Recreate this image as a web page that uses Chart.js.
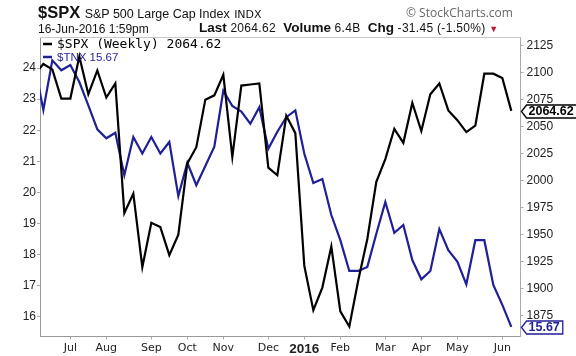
<!DOCTYPE html>
<html><head><meta charset="utf-8">
<script src="https://cdn.jsdelivr.net/npm/chart.js@4"></script>
<style>
html,body{margin:0;padding:0;background:#fff;}
#wrap{position:relative;width:576px;height:356px;overflow:hidden;font-family:"Liberation Sans",Arial,sans-serif;color:#111;}
canvas{position:absolute;left:0;top:0;}
.t{position:absolute;white-space:nowrap;line-height:1;}
</style></head><body>
<div id="wrap">
<canvas id="c" width="576" height="356"></canvas>
<div class="t" style="left:38px;top:4px;"><span style="font-weight:bold;font-size:16.5px;">$SPX</span> <span style="font-size:12.5px;">S&amp;P 500 Large Cap Index</span> <span style="font-size:11px;font-family:'DejaVu Sans';">INDX</span></div>
<div class="t" style="left:406px;top:7px;font-size:12px;color:#666;font-family:'Open Sans';">© StockCharts.com</div>
<div class="t" style="left:38px;top:23px;font-size:12px;">16-Jun-2016 1:59pm</div>
<div class="t" style="left:199px;top:21px;font-size:12px;letter-spacing:0.3px;"><b style="font-size:13.5px;letter-spacing:0;">Last</b> 2064.62 &nbsp;<b style="font-size:13.5px;letter-spacing:0;">Volume</b> 6.4B &nbsp;<b style="font-size:13.5px;letter-spacing:0;">Chg</b> -31.45 (-1.50%) <span style="color:#c0152f;font-size:9px;">▼</span></div>
</div>
<script>
// weekly points, index 0 = week of 8-Jun-2015 ... index 53 = week of 13-Jun-2016
const spx = [2098,2108,2103,2076,2076,2115,2080,2102,2077,2090,
             1970,1988,1920,1961,1957,1931,1950,2016,2031,2075,
             2079,2098,2022,2088,2089,2090,2012,2005,2060,2044,
             1921,1880,1901,1939,1879,1865,1908,1946,1999,2020,
             2048,2035,2072,2046,2080,2090,2065,2056,2045,2051,
             2099,2099,2095,2064.62];
const tnx = [24.15,22.65,24.25,23.93,24.1,23.55,22.8,22.03,21.74,21.92,
             20.55,21.78,21.25,21.78,21.25,21.62,19.88,20.95,20.23,20.85,
             21.47,23.27,22.78,22.6,22.21,22.74,21.4,21.95,22.42,22.64,
             21.24,20.3,20.43,19.27,18.46,17.47,17.47,17.6,18.67,19.69,
             18.7,18.95,17.82,17.2,17.47,18.82,18.14,17.77,17.04,18.46,
             18.46,17.02,16.38,15.67];
const monthWeeks  = [4,8,13,17,21,26,30,34,39,43,47,52];
const monthLabels = ['Jul','Aug','Sep','Oct','Nov','Dec','2016','Feb','Mar','Apr','May','Jun'];
const tnxTicks = [16,17,18,19,20,21,22,23,24];
const spxTicks = [1875,1900,1925,1950,1975,2000,2025,2050,2075,2100,2125];

const BLUE = '#1f1f98';
const toXY = arr => arr.map((v,i)=>({x:i,y:v}));

const framePlugin = {
  id:'frame',
  afterDraw(chart){
    const {ctx, chartArea:a} = chart;
    ctx.save();
    ctx.strokeStyle='#c8c8c8'; ctx.lineWidth=1;
    ctx.beginPath(); ctx.moveTo(a.left, a.top+0.5); ctx.lineTo(a.right, a.top+0.5); ctx.stroke();
    const rows = [
      {color:'#000', text:'$SPX (Weekly) '+spx[spx.length-1].toFixed(2), font:'13px "DejaVu Sans Mono"', y:a.top+7},
      {color:BLUE, text:'$TNX '+tnx[tnx.length-1].toFixed(2), font:'11.5px "Liberation Sans"', y:a.top+20}
    ];
    rows.forEach(r=>{
      ctx.strokeStyle=r.color; ctx.lineWidth=2.5;
      ctx.beginPath(); ctx.moveTo(a.left+3, r.y); ctx.lineTo(a.left+12, r.y); ctx.stroke();
      ctx.fillStyle=r.color; ctx.font=r.font; ctx.textBaseline='middle'; ctx.textAlign='left';
      ctx.fillText(r.text, a.left+17, r.y+0.5);
    });
    const tags = [
      {val:spx[spx.length-1], txt:spx[spx.length-1].toFixed(2), scale:chart.scales.ySpx, color:'#000'},
      {val:tnx[tnx.length-1], txt:tnx[tnx.length-1].toFixed(2), scale:chart.scales.yTnx, color:BLUE}
    ];
    tags.forEach(t=>{
      const y = Math.round(t.scale.getPixelForValue(t.val))+0.5;
      ctx.font='bold 12.5px "Liberation Sans"';
      const w = ctx.measureText(t.txt).width;
      const x0 = a.right+1, x1 = x0 + w + 10, h = 6.5;
      ctx.beginPath();
      ctx.moveTo(x0, y); ctx.lineTo(x0+5, y-h); ctx.lineTo(x1, y-h); ctx.lineTo(x1, y+h); ctx.lineTo(x0+5, y+h); ctx.closePath();
      ctx.fillStyle='#fff'; ctx.fill();
      ctx.strokeStyle=t.color; ctx.lineWidth=1.3; ctx.stroke();
      ctx.fillStyle=t.color; ctx.textBaseline='middle'; ctx.textAlign='left';
      ctx.fillText(t.txt, x0+7, y+0.5);
    });
    ctx.restore();
  }
};

new Chart(document.getElementById('c'), {
  type:'line',
  data:{
    datasets:[
      {label:'$SPX', data:toXY(spx), yAxisID:'ySpx', borderColor:'#000', borderWidth:2.2, pointRadius:0, tension:0, order:1},
      {label:'$TNX', data:toXY(tnx), yAxisID:'yTnx', borderColor:BLUE, borderWidth:2.2, pointRadius:0, tension:0, order:2}
    ]
  },
  options:{
    responsive:false, animation:false,
    layout:{padding:{top:37,left:0,right:0,bottom:0}},
    plugins:{legend:{display:false}, tooltip:{enabled:false}},
    scales:{
      x:{type:'linear', min:0.63, max:54.02,
        afterBuildTicks:s=>{ s.ticks = monthWeeks.map(v=>({value:v})); },
        afterFit:s=>{ s.height = 19.5; },
        grid:{display:true, drawOnChartArea:false, tickLength:3, color:'#aaa'},
        border:{display:true, color:'#999'},
        ticks:{autoSkip:false, maxRotation:0, minRotation:0, padding:2, color:'#222',
          font:ctx=> (ctx.tick && ctx.tick.value===30) ? {family:'Liberation Sans', size:13.5, weight:'bold'} : {family:'DejaVu Sans', size:11},
          callback:v=> monthLabels[monthWeeks.indexOf(v)] }
      },
      yTnx:{type:'linear', position:'left', min:15.36, max:25,
        afterBuildTicks:s=>{ s.ticks = tnxTicks.map(v=>({value:v})); },
        afterFit:s=>{ s.width = 40; },
        grid:{display:true, drawOnChartArea:false, tickLength:3, color:'#aaa'},
        border:{display:true, color:'#999'},
        ticks:{padding:1, color:'#222', font:{family:'Liberation Sans', size:12}, callback:v=>String(v)}
      },
      ySpx:{type:'linear', position:'right', min:1855.7, max:2133,
        afterBuildTicks:s=>{ s.ticks = spxTicks.map(v=>({value:v})); },
        afterFit:s=>{ s.width = 55.5; },
        grid:{display:true, drawOnChartArea:false, tickLength:3, color:'#aaa'},
        border:{display:true, color:'#aaa', dash:[2,2]},
        ticks:{padding:3, color:'#222', font:{family:'Liberation Sans', size:12}, callback:v=>String(v)}
      }
    }
  },
  plugins:[framePlugin]
});
</script>
</body></html>
